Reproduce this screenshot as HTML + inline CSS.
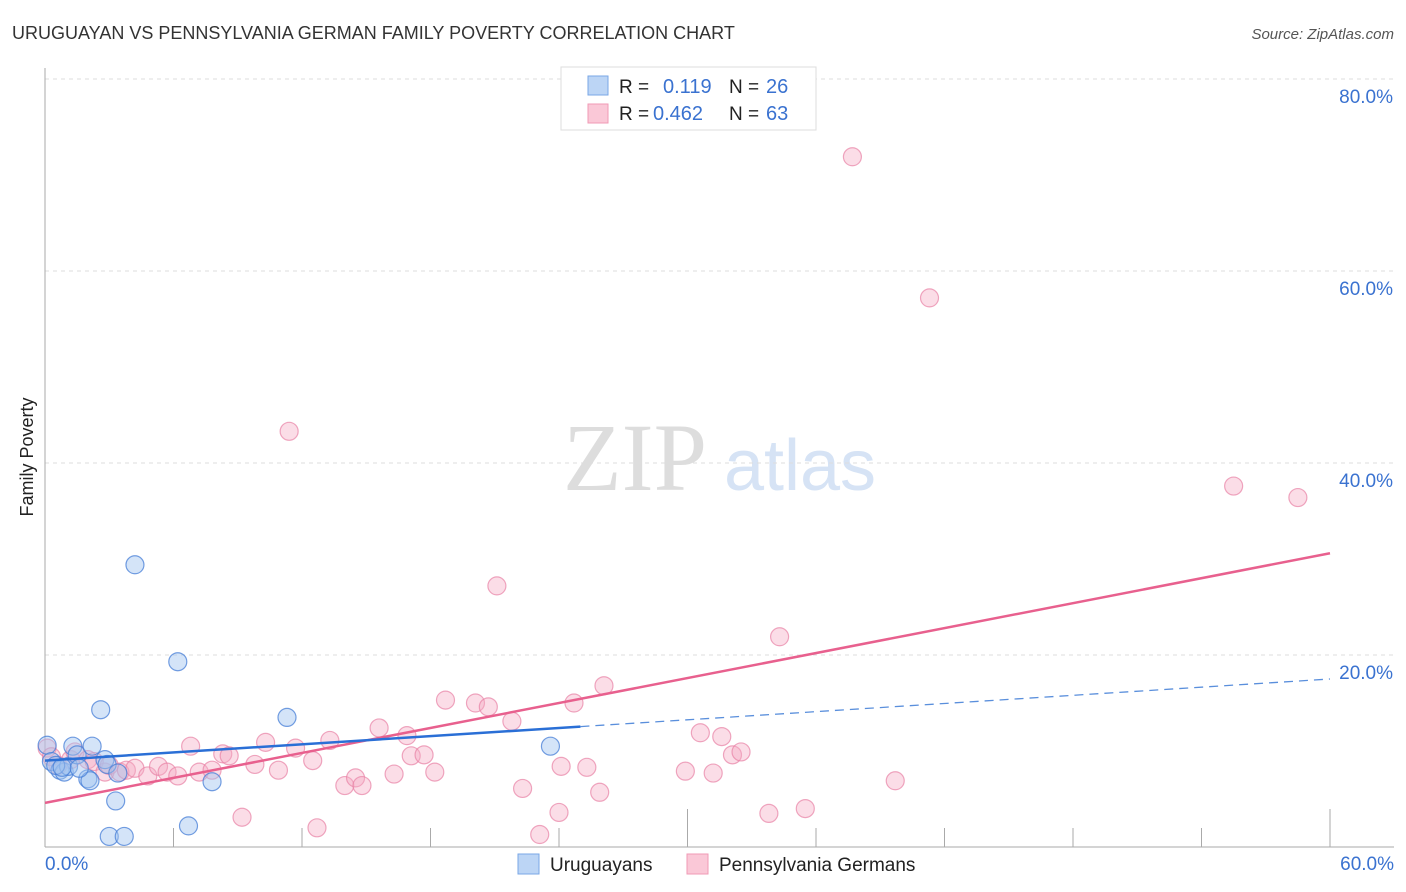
<!DOCTYPE html>
<html><head><meta charset="utf-8"><style>
body{margin:0;background:#fff;font-family:"Liberation Sans",sans-serif;}
svg{display:block}
</style></head><body>
<svg id="chart" width="1406" height="892">
<text x="12" y="39" font-size="18" fill="#333">URUGUAYAN VS PENNSYLVANIA GERMAN FAMILY POVERTY CORRELATION CHART</text>
<text x="1394" y="39" font-size="15" fill="#555" font-style="italic" text-anchor="end">Source: ZipAtlas.com</text>
<text x="33" y="457" font-size="18" fill="#222" transform="rotate(-90 33 457)" text-anchor="middle">Family Poverty</text>
<g>
<text x="635" y="490" font-size="96" fill="#ddd" font-family="Liberation Serif,serif" text-anchor="middle">ZIP</text>
<text x="800" y="490" font-size="72" fill="#d6e3f5" text-anchor="middle">atlas</text>
</g>
<g id="grid"></g>
<g id="axes"></g>
<g id="pts"></g>
<g id="lines"></g>
<g>
<rect x="561" y="67" width="255" height="63" fill="#fff" stroke="#ddd"/>
<rect x="588" y="76" width="20" height="19" fill="#bcd5f5" stroke="#7aa7e6"/>
<rect x="588" y="104" width="20" height="19" fill="#fac8d7" stroke="#f09ab5"/>
<text x="619" y="93" font-size="19" fill="#222">R = </text><text x="663" y="93" font-size="20" fill="#3a72d0">0.119</text>
<text x="729" y="93" font-size="19" fill="#222">N = </text><text x="766" y="93" font-size="20" fill="#3a72d0">26</text>
<text x="619" y="120" font-size="19" fill="#222">R = </text><text x="653" y="120" font-size="20" fill="#3a72d0">0.462</text>
<text x="729" y="120" font-size="19" fill="#222">N = </text><text x="766" y="120" font-size="20" fill="#3a72d0">63</text>
</g>
<g>
<rect x="518" y="854" width="21" height="20" fill="#bcd5f5" stroke="#7aa7e6"/>
<text x="550" y="871" font-size="19" fill="#222">Uruguayans</text>
<rect x="687" y="854" width="21" height="20" fill="#fac8d7" stroke="#f09ab5"/>
<text x="719" y="871" font-size="19" fill="#222">Pennsylvania Germans</text>
</g>
</svg>
<script>
const yTicks=[20,40,60,80];
const yTickLabels=["20.0%","40.0%","60.0%","80.0%"];
const xTicks=[0,6,12,18,24,30,36,42,48,54,60];
const longTicks=[30,60];
const blueX=[0.1,0.3,0.7,0.9,1.1,1.3,1.5,2.0,2.1,2.2,2.6,2.8,2.9,3.3,3.4,3.0,3.7,4.2,6.2,6.7,7.8,11.3,23.6,0.5,0.8,1.6];
const blueY=[10.6,8.9,8.0,7.8,8.4,10.5,9.6,7.1,6.9,10.5,14.3,9.1,8.6,4.8,7.7,1.1,1.1,29.4,19.3,2.2,6.8,13.5,10.5,8.5,8.3,8.2];
const pinkX=[0.1,0.3,0.6,1.2,1.4,2.0,2.3,2.8,3.0,3.5,3.8,4.2,4.8,5.3,5.7,6.2,6.8,7.2,7.8,8.3,8.6,9.2,9.8,10.3,10.9,11.7,12.5,12.7,13.3,14.0,14.5,14.8,15.6,16.3,16.9,17.1,17.7,18.2,18.7,20.1,20.7,21.1,21.8,22.3,23.1,24.0,24.1,24.7,25.3,25.9,26.1,29.9,30.6,31.2,31.6,32.1,32.5,33.8,34.3,35.5,37.7,39.7,41.3,55.5,58.5,11.4];
const pinkY=[10.3,9.4,8.5,9.1,9.9,9.1,8.9,7.8,8.5,7.8,8.0,8.2,7.4,8.4,7.8,7.4,10.5,7.8,8.0,9.7,9.5,3.1,8.6,10.9,8.0,10.3,9.0,2.0,11.1,6.4,7.2,6.4,12.4,7.6,11.6,9.5,9.6,7.8,15.3,15.0,14.6,27.2,13.1,6.1,1.3,3.6,8.4,15.0,8.3,5.7,16.8,7.9,11.9,7.7,11.5,9.6,9.9,3.5,21.9,4.0,71.9,6.9,57.2,37.6,36.4,43.3];
const pinkTrend=[4.6,30.6];
const blueTrend=[9.0,17.5];
const blueSolidEnd=25;
const NS="http://www.w3.org/2000/svg";
const X=v=>45+v*(1285/60);
const Y=v=>847-v*9.6;
function mk(tag,attrs,parent){const e=document.createElementNS(NS,tag);for(const k in attrs)e.setAttribute(k,attrs[k]);parent.appendChild(e);return e;}
const grid=document.getElementById('grid'),axes=document.getElementById('axes'),pts=document.getElementById('pts'),lines=document.getElementById('lines');
yTicks.forEach((t,i)=>{
 const l=mk('line',{x1:45,x2:1394,y1:Y(t),y2:Y(t),stroke:'#ddd','stroke-dasharray':'4,4'},grid);
 
 
 const tx=mk('text',{x:1393,y:Y(t)+24,'font-size':19,fill:'#3a72d0','text-anchor':'end'},grid);
 tx.textContent=yTickLabels[i];
 
 
});
let ax=mk('line',{x1:45,x2:45,y1:68,y2:847,stroke:'#aaa'},axes);


ax=mk('line',{x1:45,x2:1394,y1:847,y2:847,stroke:'#aaa'},axes);


xTicks.forEach((t,i)=>{
 if(t===0)return;
 const h=longTicks.includes(t)?38:19;
 const l=mk('line',{x1:X(t),x2:X(t),y1:847-h,y2:847,stroke:'#aaa'},axes);
 
 
});
let xl=mk('text',{x:45,y:870,'font-size':19,fill:'#3a72d0'},axes);xl.textContent='0.0%';


xl=mk('text',{x:1394,y:870,'font-size':19,fill:'#3a72d0','text-anchor':'end'},axes);xl.textContent='60.0%';


pinkX.forEach((v,i)=>{
 const c=mk('circle',{cx:X(v),cy:Y(pinkY[i]),r:9,fill:'rgba(246,170,195,0.4)',stroke:'rgba(232,130,165,0.7)','stroke-width':1.2},pts);
 
 
});
blueX.forEach((v,i)=>{
 const c=mk('circle',{cx:X(v),cy:Y(blueY[i]),r:9,fill:'rgba(160,195,240,0.45)',stroke:'rgba(70,125,215,0.75)','stroke-width':1.2},pts);
 
 
});
const by=x=>blueTrend[0]+(blueTrend[1]-blueTrend[0])*x/60;
let tl=mk('line',{x1:X(0),y1:Y(pinkTrend[0]),x2:X(60),y2:Y(pinkTrend[1]),stroke:'#e8608e','stroke-width':2.5},lines);


tl=mk('line',{x1:X(0),y1:Y(by(0)),x2:X(blueSolidEnd),y2:Y(by(blueSolidEnd)),stroke:'#2a6fd6','stroke-width':2.5},lines);


tl=mk('line',{x1:X(blueSolidEnd),y1:Y(by(blueSolidEnd)),x2:X(60),y2:Y(by(60)),stroke:'#5a8fdc','stroke-width':1.3,'stroke-dasharray':'9,6'},lines);


</script>
</body></html>
